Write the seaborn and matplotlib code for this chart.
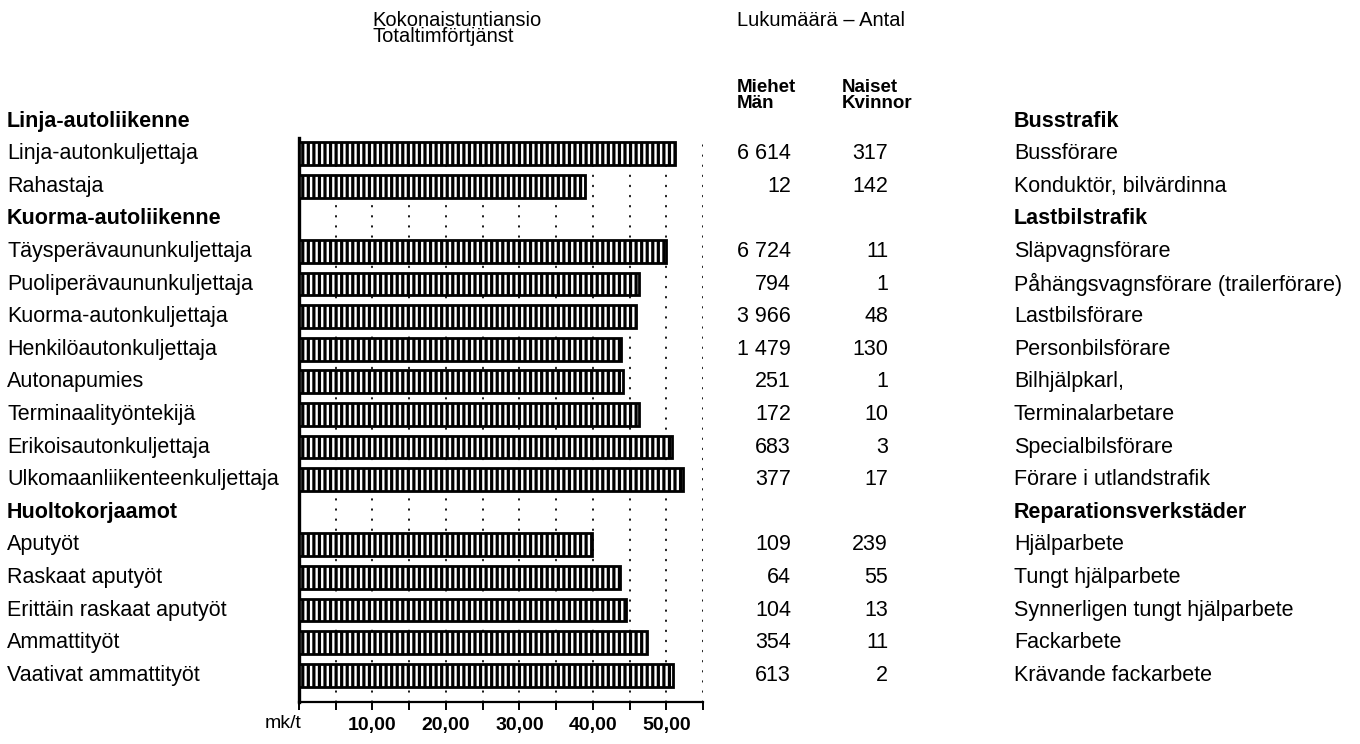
import numpy as np
import pandas as pd
import seaborn as sns
import matplotlib.pyplot as plt
import matplotlib.transforms as mtransforms

# -------------------------------------------------------------------
# Data
# -------------------------------------------------------------------
labels_fi = [
    "Linja-autoliikenne",
    "Linja-autonkuljettaja",
    "Rahastaja",
    "Kuorma-autoliikenne",
    "Täysperävaununkuljettaja",
    "Puoliperävaununkuljettaja",
    "Kuorma-autonkuljettaja",
    "Henkilöautonkuljettaja",
    "Autonapumies",
    "Terminaalityöntekijä",
    "Erikoisautonkuljettaja",
    "Ulkomaanliikenteenkuljettaja",
    "Huoltokorjaamot",
    "Aputyöt",
    "Raskaat aputyöt",
    "Erittäin raskaat aputyöt",
    "Ammattityöt",
    "Vaativat ammattityöt",
]
labels_sv = [
    "Busstrafik",
    "Bussförare",
    "Konduktör, bilvärdinna",
    "Lastbilstrafik",
    "Släpvagnsförare",
    "Påhängsvagnsförare (trailerförare)",
    "Lastbilsförare",
    "Personbilsförare",
    "Bilhjälpkarl,",
    "Terminalarbetare",
    "Specialbilsförare",
    "Förare i utlandstrafik",
    "Reparationsverkstäder",
    "Hjälparbete",
    "Tungt hjälparbete",
    "Synnerligen tungt hjälparbete",
    "Fackarbete",
    "Krävande fackarbete",
]
is_header = [True, False, False, True, False, False, False, False, False,
             False, False, False, True, False, False, False, False, False]

# total hourly earnings, mk/h (None = section heading)
hourly_pay = [None, 51.2, 38.9, None, 50.0, 46.3, 45.9, 43.8, 44.1,
              46.3, 50.8, 52.3, None, 39.9, 43.7, 44.5, 47.4, 50.9]
men = [None, 6614, 12, None, 6724, 794, 3966, 1479, 251,
       172, 683, 377, None, 109, 64, 104, 354, 613]
women = [None, 317, 142, None, 11, 1, 48, 130, 1,
         10, 3, 17, None, 239, 55, 13, 11, 2]

tick_values = list(range(0, 60, 5))
tick_labels = ["", "", "10,00", "", "20,00", "", "30,00", "", "40,00", "", "50,00", ""]

# -------------------------------------------------------------------
# Style
# -------------------------------------------------------------------
sns.set_style("white")
plt.rcParams["font.family"] = ["Liberation Sans", "DejaVu Sans"]
plt.rcParams["text.color"] = "black"
plt.rcParams["xtick.color"] = "black"
plt.rcParams["hatch.linewidth"] = 2.3
plt.rcParams["hatch.color"] = "black"

W, H = 1360, 744
fig = plt.figure(figsize=(W / 100, H / 100), dpi=100)

# axes box in pixel terms: left spine x=299, right end x=703, top y=138, bottom y=702
ax = fig.add_axes([299 / W, (H - 702) / H, (703 - 299) / W, (702 - 138) / H])

df = pd.DataFrame({"label": labels_fi, "pay": hourly_pay})
df["pay"] = df["pay"].astype(float)

sns.barplot(
    data=df, x="pay", y="label", order=labels_fi, orient="h",
    color="white", saturation=1, edgecolor="black", linewidth=2.0,
    hatch="|||", width=0.7, ax=ax, zorder=3,
)

ax.set_xlim(0, 55)
ax.set_ylim(17.82, 0.52)
ax.set_xlabel("")
ax.set_ylabel("")
ax.set_yticks([])

# sparse dotted verticals every 5 mk
for v in tick_values[1:]:
    ax.axvline(v, color="black", lw=1.3, linestyle=(0, (0.4, 5.2)),
               dash_capstyle="round", zorder=1)

for side in ["top", "right"]:
    ax.spines[side].set_visible(False)
ax.spines["left"].set_linewidth(2.4)
ax.spines["bottom"].set_linewidth(1.6)
ax.spines["left"].set_color("black")
ax.spines["bottom"].set_color("black")

ax.set_xticks(tick_values)
ax.set_xticklabels(tick_labels, fontweight="bold", fontsize=14, color="black")
ax.tick_params(axis="x", direction="out", length=6, width=1.4, pad=5,
               colors="black", bottom=True)

fig.text(283 / W, 1 - 724 / H, "mk/t", ha="center", va="center", fontsize=14)

# -------------------------------------------------------------------
# Row texts: x in figure pixels, y in data rows
# -------------------------------------------------------------------
trans = mtransforms.blended_transform_factory(fig.transFigure, ax.transData)
FS = 15.5
for i, (fi, sv, head) in enumerate(zip(labels_fi, labels_sv, is_header)):
    weight = "bold" if head else "normal"
    fig.text(7 / W, i, fi, transform=trans, ha="left", va="center",
             fontsize=FS, fontweight=weight)
    fig.text(1014 / W, i, sv, transform=trans, ha="left", va="center",
             fontsize=FS, fontweight=weight)
    if men[i] is not None:
        fig.text(791 / W, i, f"{men[i]:,}".replace(",", " "), transform=trans,
                 ha="right", va="center", fontsize=FS)
        fig.text(888 / W, i, f"{women[i]:,}".replace(",", " "), transform=trans,
                 ha="right", va="center", fontsize=FS)

# -------------------------------------------------------------------
# Column headings
# -------------------------------------------------------------------
def px_text(x, y, s, **kw):
    fig.text(x / W, 1 - y / H, s, ha="left", va="center", **kw)

px_text(372, 20, "Kokonaistuntiansio", fontsize=14.5)
px_text(372, 37, "Totaltimförtjänst", fontsize=14.5)
px_text(737, 20, "Lukumäärä – Antal", fontsize=14.5)
px_text(737, 88, "Miehet", fontsize=13.5, fontweight="bold")
px_text(737, 103, "Män", fontsize=13.5, fontweight="bold")
px_text(842, 88, "Naiset", fontsize=13.5, fontweight="bold")
px_text(842, 103, "Kvinnor", fontsize=13.5, fontweight="bold")

fig.savefig("out.png", dpi=100)
